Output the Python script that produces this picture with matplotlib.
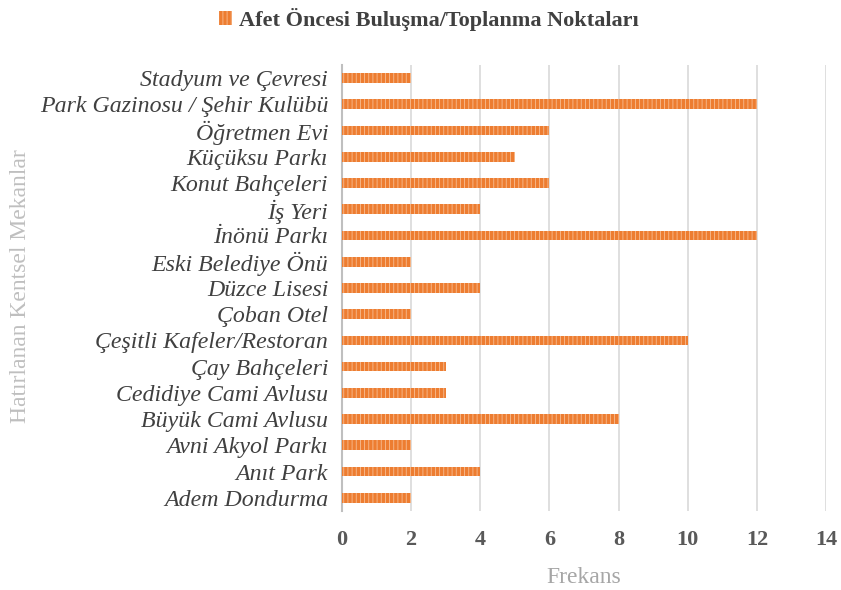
import matplotlib.pyplot as plt

# Places, listed bottom to top as they appear on the chart
places = ["Adem Dondurma", "Anıt Park", "Avni Akyol Parkı", "Büyük Cami Avlusu",
          "Cedidiye Cami Avlusu", "Çay Bahçeleri", "Çeşitli Kafeler/Restoran",
          "Çoban Otel", "Düzce Lisesi", "Eski Belediye Önü", "İnönü Parkı",
          "İş Yeri", "Konut Bahçeleri", "Küçüksu Parkı", "Öğretmen Evi",
          "Park Gazinosu / Şehir Kulübü", "Stadyum ve Çevresi"]
counts = [2, 4, 2, 8, 3, 3, 10, 2, 4, 2, 12, 4, 6, 5, 6, 12, 2]
xticks = [0, 2, 4, 6, 8, 10, 12, 14]

plt.rcParams['font.family'] = ['Liberation Serif', 'DejaVu Serif']
plt.rcParams['hatch.linewidth'] = 0.6

fig = plt.figure(figsize=(8.41, 5.9), dpi=100)
ax = fig.add_axes([0.4067, 0.134, 0.5755, 0.756])

ax.barh(range(len(places)), counts, height=0.37, color='#ED7D31',
        edgecolor='#F7BE94', linewidth=0, hatch='||||',
        label='Afet Öncesi Buluşma/Toplanma Noktaları', zorder=3)

ax.set_xlim(0, 14)
ax.set_ylim(-0.5, len(places) - 0.5)
ax.set_xticks(xticks)
ax.set_xticklabels([str(t) for t in xticks], fontsize=16, fontweight='bold', color='#595959')
ax.set_yticks(range(len(places)))
ax.set_yticklabels(places, fontsize=17.2, style='italic', color='#404040')
ax.tick_params(axis='both', length=0)
ax.tick_params(axis='x', pad=14)
ax.tick_params(axis='y', pad=10)

ax.grid(axis='x', color='#D9D9D9', linewidth=1.2, zorder=0)
for s in ['top', 'right', 'bottom']:
    ax.spines[s].set_visible(False)
ax.spines['left'].set_color('#BFBFBF')
ax.spines['left'].set_linewidth(1.5)

ax.set_xlabel('Frekans', fontsize=17, color='#A6A6A6', labelpad=12)
fig.text(0.024, 0.515, 'Hatırlanan Kentsel Mekanlar', rotation=90, fontsize=17,
         color='#BFBFBF', ha='center', va='center')

fig.legend(loc='upper center', bbox_to_anchor=(0.51, 1.02), frameon=False,
           prop={'size': 16, 'weight': 'bold'}, labelcolor='#404040',
           handlelength=0.6, handleheight=0.6, handletextpad=0.3)

plt.savefig("out.png", dpi=100)
